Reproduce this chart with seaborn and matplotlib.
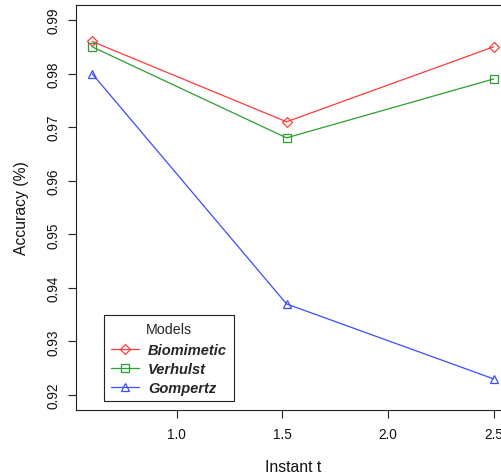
import matplotlib
matplotlib.use("Agg")
import matplotlib.pyplot as plt
import seaborn as sns
import pandas as pd

# Accuracy of each growth model at three instants
instants = [0.6, 1.52, 2.5]
biomimetic = [0.986, 0.971, 0.985]
verhulst = [0.985, 0.968, 0.979]
gompertz = [0.980, 0.937, 0.923]
models = ["Biomimetic", "Verhulst", "Gompertz"]
y_ticks = [0.92, 0.93, 0.94, 0.95, 0.96, 0.97, 0.98, 0.99]
x_ticks = [1.0, 1.5, 2.0, 2.5]

df = pd.DataFrame({
    "t": instants * 3,
    "acc": biomimetic + verhulst + gompertz,
    "model": [m for m in models for _ in instants],
})

sns.set_style("white")
plt.rcParams["font.family"] = ["Liberation Sans", "DejaVu Sans"]

palette = {"Biomimetic": "#FF3B3B", "Verhulst": "#2E9E2E", "Gompertz": "#3B4BFF"}
markers = {"Biomimetic": "D", "Verhulst": "s", "Gompertz": "^"}
msize = {"Biomimetic": 5.6, "Verhulst": 5.6, "Gompertz": 6.4}

fig = plt.figure(figsize=(5.01, 4.77), dpi=100)
ax = fig.add_axes([76 / 501, 1 - 411 / 477, (509.8 - 76) / 501, (411 - 6) / 477])

sns.lineplot(data=df, x="t", y="acc", hue="model", style="model",
             hue_order=models, style_order=models, palette=palette,
             markers=markers, dashes=False, linewidth=0.9, legend=False, ax=ax)

for line, m in zip(ax.lines, models):
    line.set_markerfacecolor("none")
    line.set_markeredgecolor(palette[m])
    line.set_markeredgewidth(0.9)
    line.set_markersize(msize[m])

ax.set_xlim(0.524, 2.576)
ax.set_ylim(0.9172, 0.9928)
ax.set_xticks(x_ticks)
ax.set_xticklabels([f"{v:.1f}" for v in x_ticks])
ax.set_yticks(y_ticks)
ax.set_yticklabels([f"{v:.2f}" for v in y_ticks], rotation=90, va="center")

for s in ax.spines.values():
    s.set_color("#222222")
    s.set_linewidth(0.8)
ax.tick_params(axis="both", which="major", direction="out", length=5.5,
               width=0.8, color="#222222", labelsize=9.8, labelcolor="#111111",
               bottom=True, left=True)
ax.tick_params(axis="x", pad=6.5)
ax.tick_params(axis="y", pad=5.5)

ax.set_xlabel("Instant t", fontsize=11.3, labelpad=13, color="#111111")
ax.set_ylabel("Accuracy (%)", fontsize=11.3, labelpad=12.5, color="#111111")

handles = []
for m in models:
    h, = ax.plot([], [], color=palette[m], marker=markers[m], mfc="none",
                 mec=palette[m], mew=0.9, ms=msize[m], lw=0.9)
    handles.append(h)

leg = ax.legend(handles, models, title="Models", loc="upper left",
                bbox_to_anchor=(104.3 / 501, 1 - 316 / 477),
                bbox_transform=fig.transFigure, borderaxespad=0,
                fancybox=False, framealpha=1, edgecolor="#222222",
                fontsize=10.5, title_fontsize=10.3, handlelength=1.9,
                handletextpad=0.65, labelspacing=0.33, borderpad=0.45)
leg.get_frame().set_linewidth(0.8)
leg._legend_box.sep = 5.5
for txt in leg.get_texts():
    txt.set_fontweight("bold")
    txt.set_fontstyle("italic")

fig.savefig("out.png", dpi=100)
